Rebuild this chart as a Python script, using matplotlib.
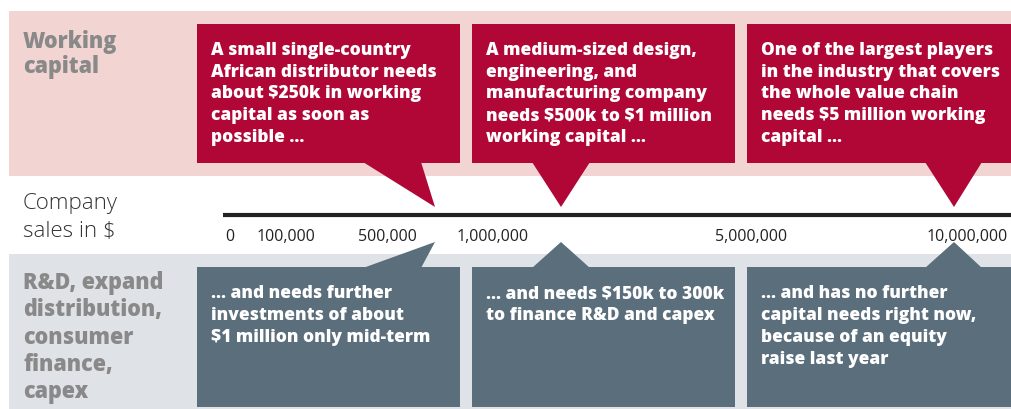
import matplotlib.pyplot as plt
from matplotlib.patches import Rectangle, Polygon

plt.rcParams["text.parse_math"] = False

# sales scale labels and the three company cases
sales_ticks = ["0", "100,000", "500,000", "1,000,000", "5,000,000", "10,000,000"]
working_capital = [
    "A small single-country\nAfrican distributor needs\nabout $250k in working\ncapital as soon as\npossible ...",
    "A medium-sized design,\nengineering, and\nmanufacturing company\nneeds $500k to $1 million\nworking capital ...",
    "One of the largest players\nin the industry that covers\nthe whole value chain\nneeds $5 million working\ncapital ...",
]
further_needs = [
    "... and needs further\ninvestments of about\n$1 million only mid-term",
    "... and needs $150k to 300k\nto finance R&D and capex",
    "... and has no further\ncapital needs right now,\nbecause of an equity\nraise last year",
]
row_labels = ["Working\ncapital", "R&D, expand\ndistribution,\nconsumer\nfinance,\ncapex"]

# layout (pixel coordinates)
tick_x = [230, 286, 387, 493, 751, 967]
box_x = [(197, 460), (472, 735), (747, 1011)]
tip_x = [435, 561, 954]
base_x = [(363, 421), (532, 590), (925, 982)]

RED = "#b00737"
PINK = "#f2d5d2"
SLATE = "#5a6e7b"
LIGHT = "#dfe3e7"
LABEL = "#898989"
FONT = "Open Sans"

fig = plt.figure(figsize=(10.11, 4.10), dpi=100)
ax = fig.add_axes([0, 0, 1, 1])
ax.set_xlim(0, 1011)
ax.set_ylim(410, 0)
ax.axis("off")


def draw_lines(x, y0, text, step, **kw):
    for i, line in enumerate(text.split("\n")):
        ax.text(x, y0 + i * step, line, va="baseline", ha="left", family=FONT, **kw)


# background bands
ax.add_patch(Rectangle((9, 12), 1002, 165, color=PINK, lw=0))
ax.add_patch(Rectangle((9, 255), 1002, 155, color=LIGHT, lw=0))

# callout boxes with pointers towards the sales axis
for (x0, x1), tx, (b0, b1), top, bottom in zip(box_x, tip_x, base_x, working_capital, further_needs):
    ax.add_patch(Rectangle((x0, 25), x1 - x0, 139, color=RED, lw=0))
    ax.add_patch(Polygon([(b0, 163), (b1, 163), (tx, 208)], color=RED, lw=0))
    draw_lines(x0 + 14, 55, top, 21.7, color="white", fontsize=12.5, fontweight="extra bold")

    ax.add_patch(Rectangle((x0, 268), x1 - x0, 140, color=SLATE, lw=0))
    ax.add_patch(Polygon([(b0, 269), (b1, 269), (tx, 243)], color=SLATE, lw=0))
    draw_lines(x0 + 14, 298, bottom, 22, color="white", fontsize=12.5, fontweight="extra bold")

# sales axis
ax.plot([223, 1011], [216, 216], color="#222222", lw=3, solid_capstyle="butt")
for x, lab in zip(tick_x, sales_ticks):
    ax.text(x, 241, lab, ha="center", va="baseline", family=FONT, fontsize=11.5, color="#222222")

# row labels
draw_lines(23, 48, row_labels[0], 25, color=LABEL, fontsize=15.5, fontweight="extra bold")
draw_lines(23, 289, row_labels[1], 27.3, color=LABEL, fontsize=15.5, fontweight="extra bold")
draw_lines(23, 209, "Company\nsales in $", 28, color="#333333", fontsize=16, fontweight="light")

fig.savefig("out.png", dpi=100)
